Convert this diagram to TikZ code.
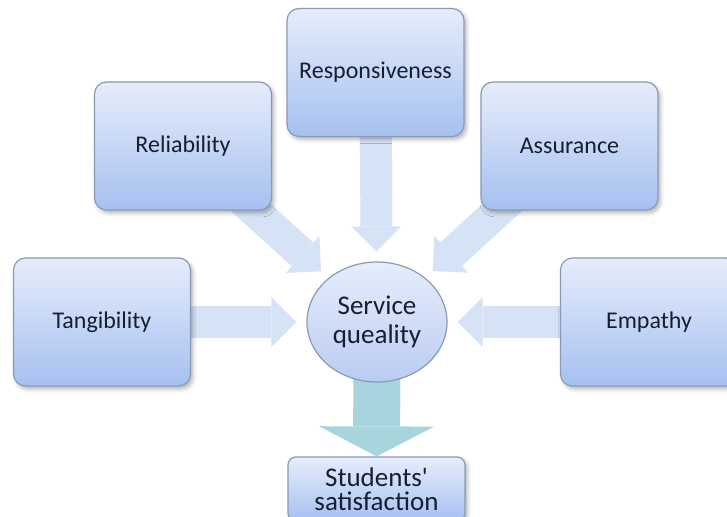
\documentclass[tikz,border=0pt]{standalone}
\usepackage{fontspec}
\setmainfont{Carlito}
\usetikzlibrary{arrows.meta, positioning, shapes.geometric, backgrounds, shadows.blur}

\definecolor{boxtop}{RGB}{230,237,251}
\definecolor{boxbot}{RGB}{166,192,240}
\definecolor{boxline}{RGB}{138,154,182}
\definecolor{arrowfill}{RGB}{214,226,246}
\definecolor{downfill}{RGB}{168,212,222}
\definecolor{textcol}{RGB}{22,30,50}

\begin{document}
\begin{tikzpicture}[x=0.5pt, y=-0.5pt,
            dimbox/.style={draw=boxline, line width=0.6pt, rounded corners=6pt,
                    top color=boxtop, bottom color=boxbot,
                    minimum width=88.5pt, minimum height=64pt, inner sep=2pt,
                    align=center, text=textcol, font=\fontsize{12}{14}\selectfont,
                    blur shadow={shadow xshift=1.2pt, shadow yshift=-1.5pt,
                            shadow blur radius=2pt, shadow opacity=30}},
            core/.style={ellipse, draw=boxline, line width=0.6pt,
                    top color=boxtop, bottom color={rgb,255:red,186;green,204;blue,242},
                    minimum width=70pt, minimum height=60pt, inner sep=0pt,
                    align=center, text=textcol, font=\fontsize{13.5}{14.5}\selectfont},
            fat/.style={draw=arrowfill, line width=16pt, shorten >=5pt,
                    -{Triangle[length=12.5pt, width=25pt, line width=0pt]}}
        ]

        \useasboundingbox (0,0) rectangle (727,517);
        \clip (0,0) rectangle (727,517);

        % the five dimensions
        \node[dimbox] (tang) at (102,322) {Tangibility};
        \node[dimbox] (rel) at (183,146) {Reliability};
        \node[dimbox] (resp) at (375.5,72.5) {Responsiveness};
        \node[dimbox] (assu) at (569.5,146) {Assurance};
        \node[dimbox] (emp) at (649,322) {Empathy};

        % centre and outcome
        \node[core] (qual) at (377,322) {Service\\queality};
        \node[dimbox, minimum height=32pt, rounded corners=4pt,
              font=\fontsize{13.5}{12}\selectfont] (sat) at (376.5,489)
            {Students\textquotesingle\\satisfaction};

        % block arrows
        \begin{scope}[on background layer]
            \draw[fat] (tang.center) -- (qual);
            \draw[fat] (rel.center) -- (qual);
            \draw[fat] (resp.center) -- (qual);
            \draw[fat] (assu.center) -- (qual);
            \draw[fat] (emp.center) -- (qual);
            \draw[draw=downfill, line width=23.5pt,
                  -{Triangle[length=15pt, width=57.5pt, line width=0pt]}]
                (qual.center) -- (sat);
        \end{scope}

    \end{tikzpicture}
\end{document}
